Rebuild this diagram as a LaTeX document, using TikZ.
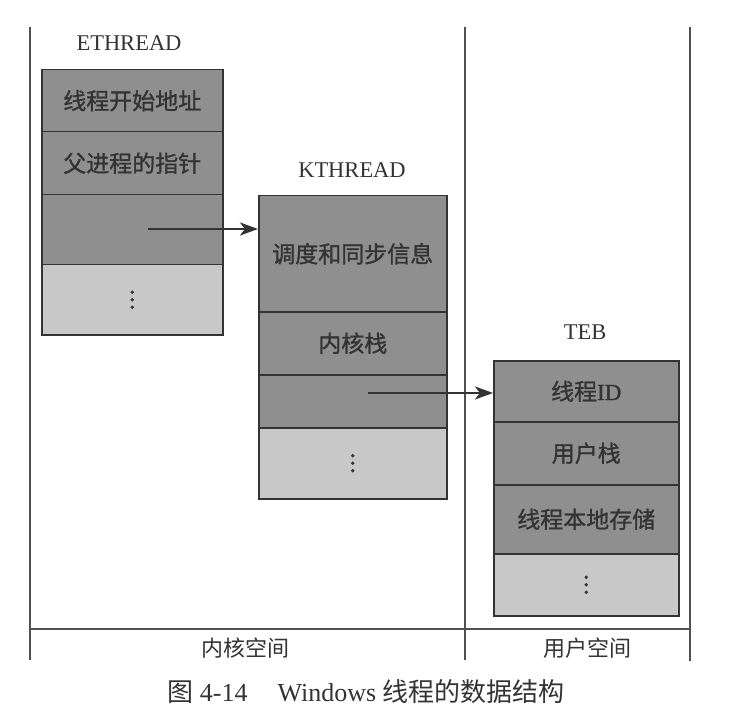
\documentclass[tikz,border=0pt]{standalone}
\usepackage{fontspec}
\setmainfont{Liberation Serif}
\newfontfamily\cjk{Noto Sans CJK SC}
\newfontfamily\cjkbold[FakeBold=1.2]{Noto Sans CJK SC}
\newfontfamily\serifbold[FakeBold=1.2]{Liberation Serif}
\usetikzlibrary{arrows.meta}
\definecolor{darkcell}{HTML}{8F8F8F}
\definecolor{lightcell}{HTML}{C8C8C8}
\definecolor{ink}{HTML}{333333}
\definecolor{rule}{HTML}{505050}
\tikzset{
  cellbox/.style={draw=ink, line width=1.5pt, fill=darkcell, inner sep=0pt, anchor=north west,
    font=\cjkbold\fontsize{23}{23}\selectfont, text=ink},
  lightbox/.style={cellbox, fill=lightcell},
  title/.style={font=\fontsize{22.5}{22.5}\selectfont, text=ink},
  region/.style={font=\cjk\fontsize{22}{22}\selectfont, text=ink},
  divider/.style={draw=rule, line width=1.2pt},
  pointer/.style={draw=ink, line width=2.6pt, -{Stealth[length=18pt,width=13pt,inset=5pt]}},
  vdot/.style={fill=ink}
}
\newcommand{\mydots}[1]{%
  \fill[vdot] ([yshift=7.5pt]#1) circle (1.9pt);
  \fill[vdot] (#1) circle (1.9pt);
  \fill[vdot] ([yshift=-7.5pt]#1) circle (1.9pt);}
\begin{document}
\begin{tikzpicture}[x=1pt,y=-1pt]
\useasboundingbox (0,0) rectangle (750,722);
% region lines
\coordinate (lt) at (30,27);
\coordinate (lb) at (30,660);
\coordinate (mt) at (465,27);
\coordinate (mb) at (465,660);
\coordinate (rt) at (690,27);
\coordinate (rb) at (690,661);
\coordinate (hl) at (30,629);
\coordinate (hr) at (690,629);
\draw[divider] (lt) -- (lb);
\draw[divider] (mt) -- (mb);
\draw[divider] (rt) -- (rb);
\draw[divider] (hl) -- (hr);
\node[region] (kspace) at (245,648) {内核空间};
\node[region] (uspace) at (587,648) {用户空间};
% ETHREAD
\node[title] (etitle) at (129,43) {ETHREAD};
\node[cellbox, minimum width=181pt, minimum height=62pt] (e1) at (41,69) {线程开始地址};
\node[cellbox, minimum width=181pt, minimum height=63pt] (e2) at (41,131) {父进程的指针};
\node[cellbox, minimum width=181pt, minimum height=70pt] (e3) at (41,194) {};
\node[lightbox, minimum width=181pt, minimum height=70pt] (e4) at (41,264) {};
\mydots{e4.center}
% KTHREAD
\node[title] (ktitle) at (352,170) {KTHREAD};
\node[cellbox, minimum width=188pt, minimum height=116pt] (k1) at (258,195) {调度和同步信息};
\node[cellbox, minimum width=188pt, minimum height=63pt] (k2) at (258,311) {内核栈};
\node[cellbox, minimum width=188pt, minimum height=53pt] (k3) at (258,374) {};
\node[lightbox, minimum width=188pt, minimum height=71pt] (k4) at (258,427) {};
\mydots{k4.center}
% TEB
\node[title] (ttitle) at (585,332) {TEB};
\node[cellbox, minimum width=185pt, minimum height=61pt] (t1) at (493,360) {线程{\serifbold ID}};
\node[cellbox, minimum width=185pt, minimum height=63pt] (t2) at (493,421) {用户栈};
\node[cellbox, minimum width=185pt, minimum height=69pt] (t3) at (493,484) {线程本地存储};
\node[lightbox, minimum width=185pt, minimum height=62pt] (t4) at (493,553) {};
\mydots{t4.center}
% pointers
\coordinate (ep) at (148,229);
\coordinate (kp) at (368,393);
\draw[pointer] (ep) -- (ep -| k1.west);
\draw[pointer] (kp) -- (kp -| t1.west);
% caption
\node[font=\fontsize{26}{26}\selectfont, text=ink] (cap) at (366,692) {{\cjk 图}\ 4-14\hspace{30pt}Windows {\cjk 线程的数据结构}};
\end{tikzpicture}
\end{document}
